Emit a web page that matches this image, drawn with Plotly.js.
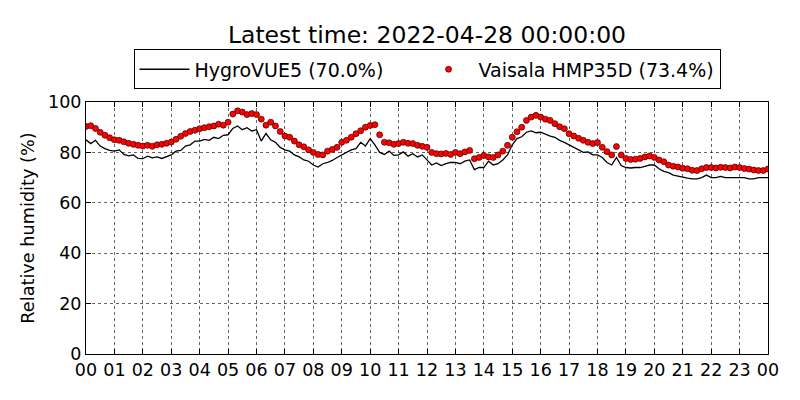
<!DOCTYPE html>
<html>
<head>
<meta charset="utf-8">
<script src="https://cdn.plot.ly/plotly-3.0.1.min.js"></script>
<style>html,body{margin:0;padding:0;background:#fff}#chart{width:800px;height:400px}</style>
</head>
<body>
<div id="chart"></div>
<script>
// 10-minute samples from 2022-04-27 00:00 to 2022-04-28 00:00
const startTime = "2022-04-27T00:00:00";
const stepMinutes = 10;
const seriesNames = ["HygroVUE5 (70.0%)", "Vaisala HMP35D (73.4%)"];
const titleText = "Latest time: 2022-04-28 00:00:00";

const hygrovue5 = [
  85.0, 83.5, 84.8, 82.5, 81.5, 80.8,
  80.5, 81.0, 79.2, 78.6, 79.0, 77.6,
  77.5, 78.5, 77.8, 78.2, 77.6, 78.4,
  79.0, 80.5, 80.8, 82.5, 83.0, 84.5,
  84.5, 85.2, 84.8, 86.0, 85.5, 86.8,
  87.0, 89.5, 90.5, 89.0, 89.8, 88.5,
  89.0, 84.5, 87.5, 85.0, 84.0, 82.0,
  81.0, 80.5, 79.0, 78.2, 77.0, 76.5,
  75.0, 74.2, 75.5, 76.0, 76.8, 78.0,
  79.0, 80.2, 81.0, 81.5, 84.0, 82.5,
  85.5, 83.0, 80.0, 79.2, 80.5, 78.8,
  79.0, 80.2, 78.5, 79.5, 78.2, 79.0,
  77.0, 75.0, 75.8, 74.8, 75.5, 76.0,
  76.0, 75.5, 76.5, 77.0, 73.2, 74.0,
  74.0, 76.5, 75.0, 75.5, 77.0, 79.0,
  83.0, 85.5, 86.2, 88.0, 88.5, 87.8,
  88.0, 87.2, 86.5, 86.0, 84.8, 84.0,
  83.0, 82.2, 81.0, 80.0, 80.2, 79.0,
  79.0, 78.0, 76.0, 75.0, 78.0, 74.8,
  74.0, 73.8, 74.0, 74.0, 74.5, 75.0,
  75.0, 73.5, 72.5, 72.0, 71.0, 70.5,
  70.0, 69.8, 69.5, 69.5, 70.0, 71.0,
  70.0, 70.0, 70.5, 70.0, 70.0, 70.0,
  70.0, 70.0, 69.5, 69.5, 70.0, 70.0,
  70.0
];

const hmp35d = [
  90.3, 90.6, 89.5, 88.0, 86.8, 85.8,
  85.0, 84.8, 84.2, 83.6, 83.2, 82.8,
  82.5, 82.8, 82.4, 83.0, 83.2, 83.6,
  84.1, 85.2, 86.4, 87.5, 88.3, 88.8,
  89.4, 89.8, 90.2, 90.5, 91.2, 90.8,
  92.0, 95.2, 96.5, 96.0, 95.0, 95.4,
  95.0, 93.2, 90.8, 92.0, 90.5, 88.3,
  86.5, 86.0, 84.5, 83.0, 82.2, 81.0,
  80.0, 79.2, 79.0, 80.5, 81.2, 82.0,
  84.0, 84.8, 86.0, 87.4, 88.6, 90.0,
  90.7, 91.0, 87.0, 84.0, 83.8, 83.2,
  83.5, 84.0, 83.6, 83.5, 82.8, 82.4,
  82.0, 80.0, 79.5, 79.4, 79.6, 79.2,
  80.0, 79.5, 80.2, 80.8, 77.5, 78.0,
  78.8, 78.2, 78.0, 79.0, 80.5, 82.8,
  86.0, 88.2, 90.0, 92.7, 94.0, 94.7,
  94.0, 93.2, 92.7, 91.4, 90.2, 89.4,
  87.4, 86.5, 85.6, 84.8, 84.0, 83.5,
  83.9, 82.0, 80.3, 79.0, 82.3, 79.0,
  77.6, 77.2, 77.3, 77.6, 78.2, 78.6,
  78.0, 77.0, 76.3, 75.0, 74.5, 74.2,
  73.7, 73.5, 72.9, 72.8, 73.5, 74.0,
  74.0, 73.8, 74.1, 74.0, 73.8, 74.2,
  74.0, 73.6, 73.4, 73.0, 72.8, 72.8,
  73.4
];

function pad(n){return (n<10?'0':'')+n;}
function timeAt(i){
  const t0 = new Date(startTime + "Z").getTime();
  const d = new Date(t0 + i*stepMinutes*60000);
  return d.getUTCFullYear()+'-'+pad(d.getUTCMonth()+1)+'-'+pad(d.getUTCDate())+' '+pad(d.getUTCHours())+':'+pad(d.getUTCMinutes())+':00';
}
const times = hmp35d.map((_, i) => timeAt(i));

const font = {family: "DejaVu Sans, sans-serif", color: "#000"};
const NBSP = "\u00a0";

const traces = [
  {
    x: times, y: hygrovue5, name: seriesNames[0] + NBSP.repeat(5), type: "scatter", mode: "lines",
    line: {color: "#000", width: 1.3}
  },
  {
    x: times, y: hmp35d, name: seriesNames[1], type: "scatter", mode: "markers",
    marker: {color: "#ff0000", size: 6, line: {color: "#3a0000", width: 0.7}}
  }
];

const axisCommon = {
  showline: true, linecolor: "#000", linewidth: 1, mirror: "ticks",
  ticks: "inside", ticklen: 5, tickcolor: "#000", tickwidth: 1,
  showgrid: true, gridcolor: "#000", griddash: "dot", gridwidth: 0.6,
  zeroline: false, tickfont: Object.assign({size: 17.5}, font)
};

const layout = {
  width: 800, height: 400,
  margin: {l: 86, r: 32, t: 102, b: 46},
  paper_bgcolor: "#fff", plot_bgcolor: "#fff",
  font: font,
  title: {text: titleText, font: Object.assign({size: 23.5}, font), xref: "paper", x: 0.5, xanchor: "center", yref: "container", y: 0.9125, yanchor: "middle"},
  showlegend: true,
  legend: {
    orientation: "h", x: 0.5, xanchor: "center", y: 1.05, yanchor: "bottom",
    bordercolor: "#000", borderwidth: 1, bgcolor: "#fff",
    font: Object.assign({size: 19}, font),
    itemwidth: 50
  },
  xaxis: Object.assign({}, axisCommon, {
    type: "date", range: ["2022-04-27 00:00:00", "2022-04-28 00:00:00"],
    tickformat: "%H", dtick: 3600000, tick0: "2022-04-27 00:00:00"
  }),
  yaxis: Object.assign({}, axisCommon, {
    range: [0, 100], dtick: 20, tick0: 0,
    title: {text: "Relative humidity (%)", font: Object.assign({size: 17.7}, font), standoff: 8}
  })
};

Plotly.newPlot("chart", traces, layout, {displayModeBar: false, staticPlot: true});
</script>
</body>
</html>
